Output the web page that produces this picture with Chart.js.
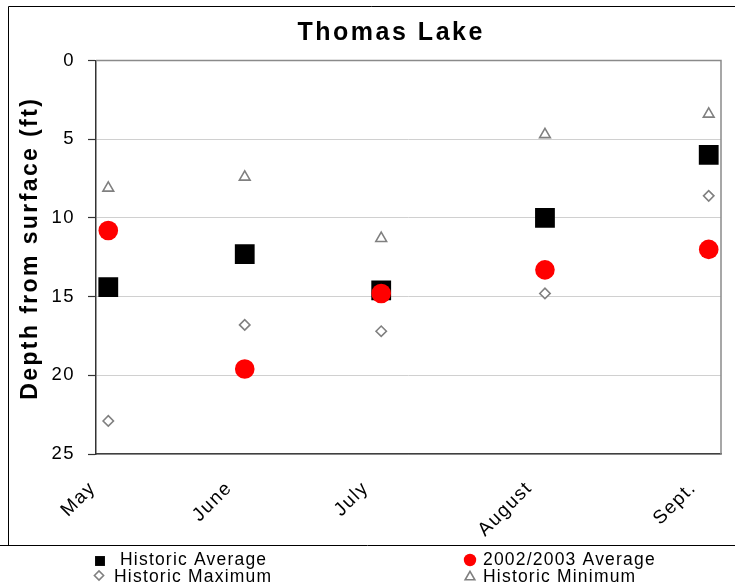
<!DOCTYPE html>
<html>
<head>
<meta charset="utf-8">
<script src="https://cdn.jsdelivr.net/npm/chart.js@4.4.1/dist/chart.umd.min.js"></script>
<style>
  html, body { margin: 0; padding: 0; background: #fff; }
  #wrap { width: 735px; height: 587px; }
</style>
</head>
<body>
<div id="wrap"><canvas id="c" width="735" height="587"></canvas></div>
<script>
// Thomas Lake: depth from surface by month
const chartTitle = 'Thomas Lake';
const axisTitle = 'Depth from surface (ft)';
const months = ['May', 'June', 'July', 'August', 'Sept.'];
// sampling position of each month along the x axis
const monthPosition = [1, 2, 3, 4.2, 5.4];
const depthTicks = [0, 5, 10, 15, 20, 25];

const historicAverage  = [14.4, 12.3, 14.6, 10.0, 6.0];
const average2002_2003 = [10.8, 19.6, 14.8, 13.3, 12.0];
const historicMaximum  = [22.9, 16.8, 17.2, 14.8, 8.6];
const historicMinimum  = [8.1, 7.4, 11.3, 4.7, 3.4];

const FONT = '"Liberation Sans", Arial, sans-serif';

const toPoints = (vals) => vals.map((v, i) => ({ x: monthPosition[i], y: v }));

const datasets = [
  { label: 'Historic Average', data: toPoints(historicAverage), order: 1,
    pointStyle: 'rect', pointRadius: 14, pointBackgroundColor: '#000', pointBorderColor: '#000', pointBorderWidth: 0,
    legendRadius: 7 },
  { label: '2002/2003 Average', data: toPoints(average2002_2003), order: 0,
    pointStyle: 'circle', pointRadius: 9.8, pointBackgroundColor: '#ff0000', pointBorderColor: '#ff0000', pointBorderWidth: 0,
    legendRadius: 6.2 },
  { label: 'Historic Maximum', data: toPoints(historicMaximum), order: 2,
    pointStyle: 'rectRot', pointRadius: 5.2, pointBackgroundColor: '#fff', pointBorderColor: '#808080', pointBorderWidth: 1.6,
    legendRadius: 4.6 },
  { label: 'Historic Minimum', data: toPoints(historicMinimum), order: 3,
    pointStyle: 'triangle', pointRadius: 6.2, pointBackgroundColor: '#fff', pointBorderColor: '#808080', pointBorderWidth: 1.6,
    legendRadius: 5.6 }
];

// text spacing, frame, title and legend
const decor = {
  id: 'decor',
  beforeDraw(chart) {
    chart.ctx.letterSpacing = '1.5px';
    const ys = chart.scales.y;
    if (ys && !ys._spacedTitle) {
      const orig = ys.drawTitle;
      ys.drawTitle = function () {
        const c = this.ctx;
        c.save();
        c.letterSpacing = '2.4px';
        c.translate(0, -9);
        orig.call(this);
        c.restore();
      };
      ys._spacedTitle = true;
    }
  },
  afterDraw(chart) {
    const ctx = chart.ctx;
    const a = chart.chartArea;
    ctx.save();
    ctx.letterSpacing = '0px';

    // plot area outline (top and right)
    ctx.strokeStyle = '#8a8a8a';
    ctx.lineWidth = 1.5;
    ctx.beginPath();
    ctx.moveTo(a.left, a.top);
    ctx.lineTo(a.right, a.top);
    ctx.lineTo(a.right, a.bottom);
    ctx.stroke();

    // outer frame and legend separator
    ctx.strokeStyle = '#000';
    ctx.lineWidth = 1;
    ctx.beginPath();
    ctx.moveTo(8.5, 545.5);
    ctx.lineTo(8.5, 6.5);
    ctx.lineTo(735, 6.5);
    ctx.moveTo(0, 545.5);
    ctx.lineTo(735, 545.5);
    ctx.stroke();

    // title
    ctx.fillStyle = '#000';
    ctx.font = 'bold 25px ' + FONT;
    ctx.textAlign = 'center';
    ctx.textBaseline = 'alphabetic';
    ctx.letterSpacing = '2.5px';
    ctx.fillText(chartTitle, 391.2, 40);

    // legend: two columns, two rows
    const slots = [
      { mx: 100, my: 561, tx: 120, ty: 565 },
      { mx: 470, my: 560, tx: 483, ty: 565 },
      { mx: 99,  my: 575.5, tx: 114, ty: 581.5 },
      { mx: 470, my: 577, tx: 483, ty: 581.5 }
    ];
    chart.data.datasets.forEach((ds, i) => {
      const s = slots[i];
      ctx.fillStyle = ds.pointBackgroundColor;
      ctx.strokeStyle = ds.pointBorderColor;
      ctx.lineWidth = ds.pointBorderWidth;
      Chart.helpers.drawPoint(ctx, {
        pointStyle: ds.pointStyle, radius: ds.legendRadius,
        borderWidth: ds.pointBorderWidth, rotation: 0
      }, s.mx, s.my);
      ctx.fillStyle = '#000';
      ctx.font = '17.5px ' + FONT;
      ctx.textAlign = 'left';
      ctx.letterSpacing = '1.2px';
      ctx.fillText(ds.label, s.tx, s.ty);
    });
    ctx.restore();
  }
};

new Chart(document.getElementById('c'), {
  type: 'scatter',
  data: { datasets },
  options: {
    responsive: false,
    animation: false,
    devicePixelRatio: 1,
    layout: { padding: { left: 0, right: 13, top: 60.5, bottom: 0 } },
    plugins: { legend: { display: false }, title: { display: false }, tooltip: { enabled: false } },
    elements: { point: { hoverRadius: 0 } },
    scales: {
      x: {
        type: 'linear',
        min: 0.91,
        max: 5.49,
        afterBuildTicks(scale) { scale.ticks = monthPosition.map(v => ({ value: v })); },
        afterFit(scale) {
          scale.height = 133;
          scale.paddingLeft = 0; scale.paddingRight = 0;
          scale.paddingTop = 0; scale.paddingBottom = 0;
        },
        grid: { display: false, drawTicks: false },
        border: { display: true, color: '#404040', width: 1.5 },
        ticks: {
          autoSkip: false,
          minRotation: 45,
          maxRotation: 45,
          labelOffset: -15.5,
          padding: 23,
          color: '#000',
          font: { family: FONT, size: 19 },
          callback(value) {
            const i = monthPosition.indexOf(value);
            return i >= 0 ? months[i] : '';
          }
        }
      },
      y: {
        min: 0,
        max: 25,
        reverse: true,
        afterBuildTicks(scale) { scale.ticks = depthTicks.map(v => ({ value: v })); },
        afterFit(scale) {
          scale.width = 96;
          scale.paddingLeft = 0; scale.paddingRight = 0;
          scale.paddingTop = 0; scale.paddingBottom = 0;
        },
        grid: { color: '#d0d0d0', lineWidth: 1, tickColor: '#333', tickLength: 8, tickWidth: 1.2 },
        border: { display: true, color: '#333', width: 1.5 },
        ticks: {
          padding: 13,
          color: '#000',
          font: { family: FONT, size: 18.5 }
        },
        title: {
          display: true,
          text: axisTitle,
          color: '#000',
          padding: { top: 17, bottom: 0 },
          font: { family: FONT, size: 23, weight: 'bold' }
        }
      }
    }
  },
  plugins: [decor]
});
</script>
</body>
</html>
